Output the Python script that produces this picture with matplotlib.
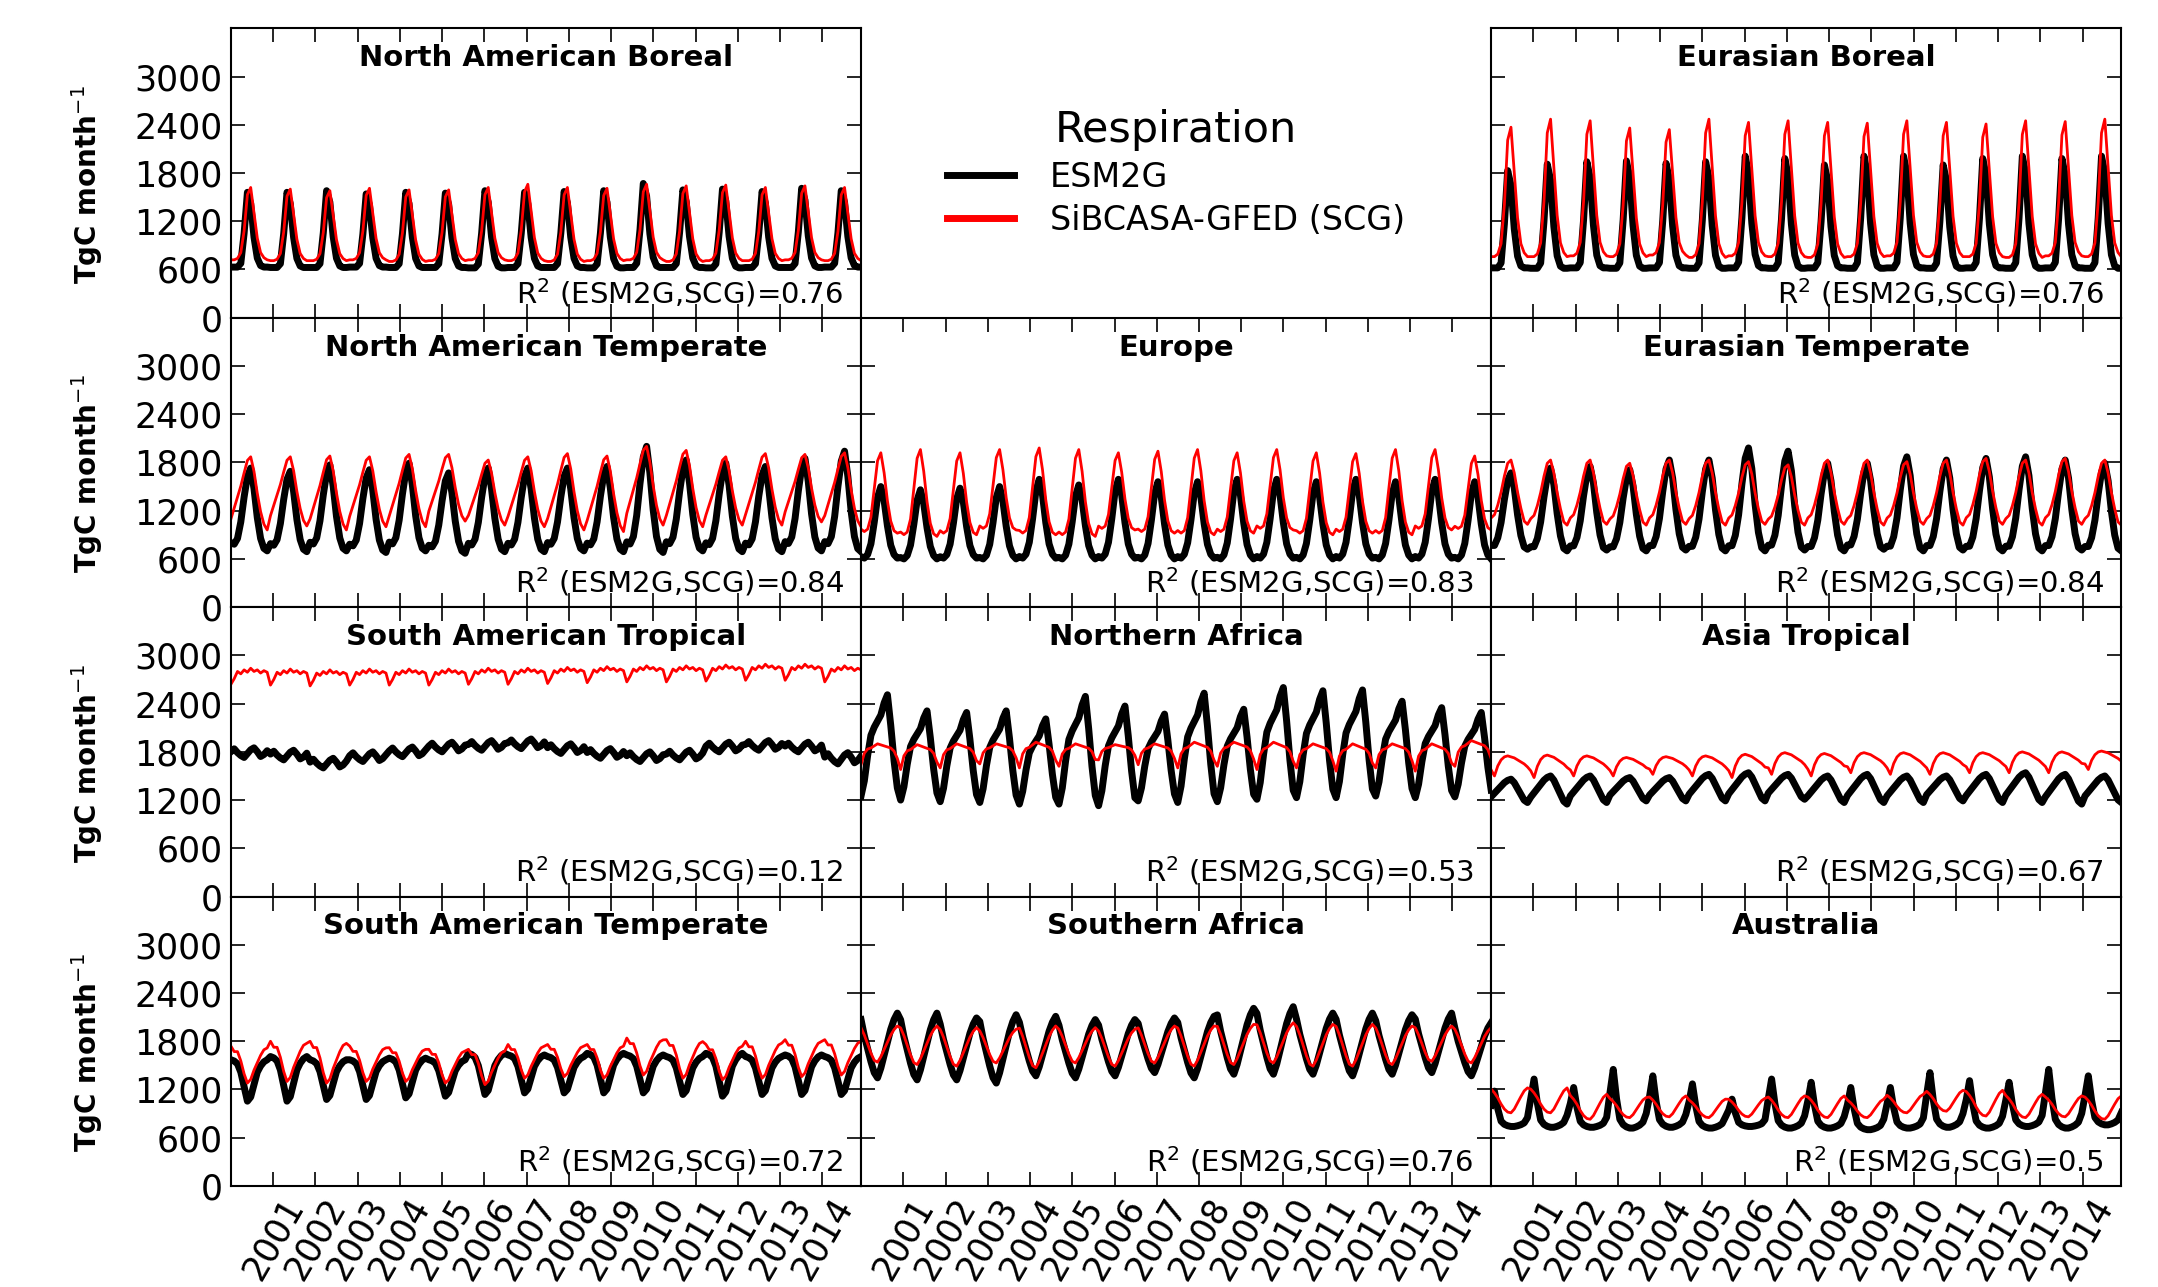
import numpy as np
import matplotlib
matplotlib.use("Agg")
import matplotlib.pyplot as plt

# monthly values 2000-01 .. 2015-12, built from yearly lows/peaks and a 12-month shape
n_years = 16
years_ticks = list(range(2001, 2015))

# North American Boreal
nab_esm_peak = [1560, 1560, 1580, 1540, 1560, 1550, 1580, 1560, 1570, 1580, 1670, 1590, 1600, 1570, 1610, 1580]
nab_esm_low = [630, 625, 625, 630, 625, 625, 620, 625, 625, 620, 625, 625, 620, 625, 625, 630]
nab_scg_peak = [1620, 1600, 1580, 1610, 1590, 1590, 1620, 1660, 1620, 1610, 1660, 1640, 1650, 1620, 1640, 1620]
nab_scg_low = [720, 710, 710, 720, 700, 710, 720, 710, 700, 710, 720, 700, 710, 710, 720, 710]

# Eurasian Boreal
eab_esm_peak = [1830, 1910, 1940, 1950, 1920, 1940, 2010, 1980, 1900, 2010, 2010, 1900, 1980, 2010, 1980, 2010]
eab_esm_low = [620, 615, 620, 615, 620, 615, 620, 615, 620, 615, 620, 615, 620, 615, 620, 615]
eab_scg_peak = [2370, 2470, 2450, 2360, 2340, 2470, 2430, 2450, 2430, 2420, 2450, 2430, 2410, 2450, 2440, 2470]
eab_scg_low = [760, 760, 770, 760, 780, 750, 770, 760, 750, 760, 770, 760, 760, 750, 770, 760]

boreal_esm_shape = [0, 0, 0, 0.05, 0.45, 1.0, 0.85, 0.4, 0.12, 0.02, 0, 0]
boreal_scg_shape = [0, 0, 0.02, 0.1, 0.4, 0.9, 1.0, 0.65, 0.3, 0.1, 0.03, 0]

# North American Temperate
nat_esm_peak = [1730, 1690, 1770, 1710, 1790, 1670, 1730, 1730, 1730, 1750, 2000, 1830, 1790, 1750, 1850, 1940]
nat_esm_low = [700, 690, 700, 680, 700, 670, 690, 690, 700, 690, 680, 700, 690, 690, 700, 690]
nat_scg_peak = [1870, 1870, 1880, 1870, 1900, 1900, 1830, 1870, 1910, 1880, 2000, 1950, 1870, 1910, 1900, 1920]
nat_scg_low = [960, 1010, 960, 1000, 1000, 1070, 1020, 1000, 960, 940, 1020, 1000, 1020, 1020, 1060, 1000]
nat_esm_shape = [0.1, 0.08, 0.15, 0.35, 0.65, 0.9, 1.0, 0.75, 0.4, 0.15, 0.03, 0.0]
nat_scg_shape = [0.15, 0.3, 0.45, 0.6, 0.78, 0.95, 1.0, 0.8, 0.5, 0.25, 0.08, 0.0]

# Europe
eur_esm_peak = [1500, 1460, 1480, 1500, 1590, 1520, 1590, 1560, 1560, 1590, 1590, 1560, 1590, 1560, 1590, 1560]
eur_esm_low = [610, 600, 610, 600, 610, 600, 610, 600, 610, 600, 610, 600, 610, 600, 610, 600]
eur_scg_peak = [1920, 1960, 1920, 1960, 1980, 1960, 1920, 1940, 1960, 1920, 1960, 1920, 1910, 1960, 1960, 1880]
eur_scg_low = [920, 880, 900, 960, 900, 880, 960, 920, 900, 920, 960, 900, 920, 900, 960, 960]
eur_esm_shape = [0.02, 0.0, 0.05, 0.2, 0.5, 0.85, 1.0, 0.8, 0.45, 0.18, 0.05, 0.0]
eur_scg_shape = [0.05, 0.02, 0.05, 0.2, 0.55, 0.9, 1.0, 0.75, 0.4, 0.15, 0.03, 0.0]

# Eurasian Temperate
eat_esm_peak = [1670, 1730, 1750, 1710, 1830, 1830, 1980, 1940, 1790, 1790, 1870, 1830, 1850, 1870, 1830, 1790]
eat_esm_low = [720, 700, 710, 700, 710, 700, 700, 710, 700, 720, 700, 710, 700, 700, 710, 700]
eat_scg_peak = [1830, 1830, 1830, 1790, 1830, 1830, 1810, 1770, 1830, 1830, 1810, 1830, 1850, 1830, 1850, 1830]
eat_scg_low = [1030, 1020, 1030, 1020, 1030, 1020, 1030, 1020, 1030, 1020, 1030, 1020, 1030, 1020, 1030, 1020]
eat_esm_shape = [0.05, 0.05, 0.15, 0.35, 0.65, 0.9, 1.0, 0.8, 0.45, 0.18, 0.03, 0.0]
eat_scg_shape = [0.1, 0.15, 0.3, 0.5, 0.75, 0.95, 1.0, 0.8, 0.5, 0.25, 0.05, 0.0]

# South American Tropical
sat_esm_peak = [1850, 1820, 1720, 1800, 1860, 1920, 1940, 1960, 1900, 1840, 1800, 1820, 1920, 1940, 1920, 1790]
sat_esm_low = [1730, 1700, 1600, 1680, 1740, 1800, 1820, 1840, 1780, 1720, 1680, 1700, 1800, 1820, 1800, 1650]
sat_scg_peak = [2840, 2830, 2820, 2830, 2830, 2830, 2840, 2840, 2850, 2860, 2870, 2870, 2880, 2890, 2890, 2870]
sat_scg_low = [2640, 2630, 2620, 2630, 2630, 2630, 2640, 2640, 2650, 2660, 2670, 2670, 2680, 2690, 2690, 2670]
sat_esm_shape = [0.6, 0.9, 0.5, 0.2, 0.0, 0.4, 0.8, 1.0, 0.6, 0.1, 0.3, 0.7]
sat_scg_shape = [0.0, 0.35, 0.8, 0.65, 0.9, 0.75, 1.0, 0.8, 0.9, 0.7, 0.85, 0.75]

# Northern Africa
naf_esm_peak = [2510, 2310, 2290, 2310, 2210, 2490, 2370, 2270, 2530, 2330, 2600, 2560, 2570, 2430, 2350, 2290]
naf_esm_low = [1250, 1200, 1180, 1170, 1150, 1150, 1130, 1190, 1170, 1180, 1210, 1230, 1230, 1250, 1230, 1240]
naf_scg_peak = [1900, 1890, 1900, 1900, 1920, 1900, 1890, 1900, 1920, 1920, 1920, 1900, 1900, 1900, 1900, 1940]
naf_scg_low = [1640, 1580, 1600, 1650, 1600, 1620, 1700, 1640, 1600, 1620, 1580, 1600, 1560, 1600, 1560, 1620]
naf_esm_shape = [0.0, 0.15, 0.4, 0.6, 0.68, 0.74, 0.8, 0.92, 1.0, 0.7, 0.35, 0.08]
naf_scg_shape = [0.0, 0.55, 0.75, 0.8, 0.9, 1.0, 0.95, 0.9, 0.85, 0.8, 0.65, 0.3]

# Asia Tropical
ast_esm_peak = [1460, 1500, 1500, 1480, 1480, 1520, 1540, 1520, 1500, 1520, 1500, 1500, 1520, 1540, 1520, 1500]
ast_esm_low = [1170, 1150, 1170, 1190, 1190, 1190, 1190, 1210, 1170, 1170, 1170, 1190, 1170, 1170, 1150, 1170]
ast_scg_peak = [1750, 1760, 1750, 1730, 1740, 1750, 1770, 1790, 1780, 1790, 1790, 1790, 1790, 1800, 1800, 1810]
ast_scg_low = [1500, 1480, 1500, 1500, 1520, 1500, 1480, 1520, 1500, 1540, 1520, 1520, 1540, 1540, 1540, 1580]
ast_esm_shape = [0.25, 0.4, 0.55, 0.7, 0.85, 0.95, 1.0, 0.85, 0.6, 0.35, 0.1, 0.0]
ast_scg_shape = [0.3, 0.0, 0.5, 0.8, 0.95, 1.0, 0.95, 0.9, 0.8, 0.7, 0.6, 0.45]

# South American Temperate
sam_esm_peak = [1570, 1610, 1570, 1570, 1590, 1570, 1650, 1630, 1610, 1650, 1630, 1610, 1650, 1610, 1630, 1610]
sam_esm_low = [1055, 1055, 1076, 1076, 1096, 1117, 1138, 1158, 1158, 1158, 1158, 1138, 1117, 1138, 1138, 1138]
sam_scg_peak = [1740, 1800, 1800, 1740, 1720, 1700, 1700, 1760, 1760, 1760, 1840, 1820, 1760, 1800, 1820, 1820]
sam_scg_low = [1280, 1300, 1280, 1300, 1300, 1280, 1260, 1340, 1360, 1340, 1380, 1340, 1320, 1340, 1360, 1380]
sam_esm_shape = [1.0, 0.97, 0.9, 0.7, 0.35, 0.0, 0.1, 0.4, 0.7, 0.85, 0.95, 1.0]
sam_scg_shape = [1.0, 0.85, 0.85, 0.6, 0.25, 0.0, 0.1, 0.35, 0.55, 0.75, 0.9, 0.95]

# Southern Africa
saf_esm_peak = [2150, 2150, 2090, 2130, 2110, 2070, 2070, 2090, 2110, 2210, 2230, 2150, 2150, 2130, 2150, 2030]
saf_esm_low = [1345, 1320, 1320, 1280, 1370, 1345, 1370, 1410, 1345, 1390, 1390, 1390, 1370, 1390, 1410, 1370]
saf_scg_peak = [1990, 1990, 1970, 1950, 1990, 1970, 1950, 1990, 1990, 2010, 2030, 2010, 2010, 1990, 1990, 1970]
saf_scg_low = [1540, 1510, 1490, 1530, 1470, 1530, 1490, 1530, 1490, 1510, 1530, 1490, 1490, 1510, 1550, 1530]
saf_esm_shape = [0.9, 0.65, 0.45, 0.25, 0.08, 0.0, 0.15, 0.35, 0.55, 0.75, 0.9, 1.0]
saf_scg_shape = [0.95, 0.75, 0.5, 0.25, 0.05, 0.0, 0.15, 0.35, 0.55, 0.75, 0.9, 1.0]

# Australia
aus_esm_peak = [1180, 1330, 1225, 1450, 1370, 1270, 1080, 1330, 1290, 1225, 1225, 1410, 1310, 1290, 1450, 1370]
aus_esm_low = [740, 730, 730, 720, 730, 720, 740, 720, 720, 700, 720, 730, 720, 740, 720, 760]
aus_scg_peak = [1220, 1220, 1140, 1100, 1120, 1080, 1090, 1120, 1120, 1080, 1140, 1190, 1190, 1140, 1120, 1120]
aus_scg_low = [910, 910, 830, 850, 860, 850, 860, 850, 850, 850, 910, 930, 870, 850, 860, 830]
aus_esm_shape = [0.6, 1.0, 0.5, 0.15, 0.06, 0.02, 0.0, 0.0, 0.02, 0.05, 0.1, 0.25]
aus_scg_shape = [0.95, 0.8, 0.6, 0.35, 0.15, 0.03, 0.0, 0.15, 0.4, 0.65, 0.88, 1.0]

r2_values = [0.76, 0.76, 0.84, 0.83, 0.84, 0.12, 0.53, 0.67, 0.72, 0.76, 0.5]


def monthly(low, peak, shape):
    low = np.repeat(np.array(low, float), 12)
    peak = np.repeat(np.array(peak, float), 12)
    s = np.tile(np.array(shape, float), n_years)
    return low + (peak - low) * s


# (row, col, title, esm, scg, r2)
panels = [
    (0, 0, "North American Boreal", monthly(nab_esm_low, nab_esm_peak, boreal_esm_shape),
     monthly(nab_scg_low, nab_scg_peak, boreal_scg_shape), r2_values[0]),
    (0, 2, "Eurasian Boreal", monthly(eab_esm_low, eab_esm_peak, boreal_esm_shape),
     monthly(eab_scg_low, eab_scg_peak, boreal_scg_shape), r2_values[1]),
    (1, 0, "North American Temperate", monthly(nat_esm_low, nat_esm_peak, nat_esm_shape),
     monthly(nat_scg_low, nat_scg_peak, nat_scg_shape), r2_values[2]),
    (1, 1, "Europe", monthly(eur_esm_low, eur_esm_peak, eur_esm_shape),
     monthly(eur_scg_low, eur_scg_peak, eur_scg_shape), r2_values[3]),
    (1, 2, "Eurasian Temperate", monthly(eat_esm_low, eat_esm_peak, eat_esm_shape),
     monthly(eat_scg_low, eat_scg_peak, eat_scg_shape), r2_values[4]),
    (2, 0, "South American Tropical", monthly(sat_esm_low, sat_esm_peak, sat_esm_shape),
     monthly(sat_scg_low, sat_scg_peak, sat_scg_shape), r2_values[5]),
    (2, 1, "Northern Africa", monthly(naf_esm_low, naf_esm_peak, naf_esm_shape),
     monthly(naf_scg_low, naf_scg_peak, naf_scg_shape), r2_values[6]),
    (2, 2, "Asia Tropical", monthly(ast_esm_low, ast_esm_peak, ast_esm_shape),
     monthly(ast_scg_low, ast_scg_peak, ast_scg_shape), r2_values[7]),
    (3, 0, "South American Temperate", monthly(sam_esm_low, sam_esm_peak, sam_esm_shape),
     monthly(sam_scg_low, sam_scg_peak, sam_scg_shape), r2_values[8]),
    (3, 1, "Southern Africa", monthly(saf_esm_low, saf_esm_peak, saf_esm_shape),
     monthly(saf_scg_low, saf_scg_peak, saf_scg_shape), r2_values[9]),
    (3, 2, "Australia", monthly(aus_esm_low, aus_esm_peak, aus_esm_shape),
     monthly(aus_scg_low, aus_scg_peak, aus_scg_shape), r2_values[10]),
]

x = np.linspace(2000, 2015 - 1 / 12, n_years * 12)

fig, axes = plt.subplots(4, 3, figsize=(21.58, 12.87), dpi=100)
fig.subplots_adjust(left=0.107, right=0.983, top=0.978, bottom=0.0785, wspace=0, hspace=0)

handles = None
for row, col, title, esm, scg, r2 in panels:
    ax = axes[row, col]
    l1, = ax.plot(x, esm, color="black", lw=5)
    l2, = ax.plot(x, scg, color="red", lw=2)
    if handles is None:
        handles = [l1, l2]
    ax.set_xlim(x[0], x[-1])
    ax.set_ylim(0, 3600)
    ax.set_yticks(range(0, 3001, 600))
    ax.set_xticks(years_ticks)
    ax.tick_params(direction="in", length=10, width=1.2, top=True, right=True, labelsize=25)
    ax.tick_params(axis="y", pad=6)
    ax.tick_params(axis="x", pad=4)
    for sp in ax.spines.values():
        sp.set_linewidth(1.5)
    ax.text(0.5, 0.945, title, transform=ax.transAxes, ha="center", va="top",
            fontsize=21, fontweight="bold")
    ax.text(0.972, 0.03, "R$^2$ (ESM2G,SCG)=%s" % r2, transform=ax.transAxes,
            ha="right", va="bottom", fontsize=21)
    if row == 3:
        ax.set_xticklabels([str(y) for y in years_ticks], rotation=60, ha="center")
    else:
        ax.set_xticklabels([])
    if col == 0:
        ax.set_ylabel("TgC month$^{-1}$", fontsize=20, fontweight="bold")
        ax.yaxis.set_label_coords(-0.2, 0.46)
    else:
        ax.set_yticklabels([])

leg_ax = axes[0, 1]
leg_ax.axis("off")
leg = leg_ax.legend(handles, ["ESM2G", "SiBCASA-GFED (SCG)"], title="Respiration",
                    loc="center", frameon=False, fontsize=24, title_fontsize=31,
                    handletextpad=1.1, labelspacing=0.3)
for ln in leg.get_lines():
    ln.set_linewidth(5)

plt.savefig("out.png", dpi=100)
plt.close()
